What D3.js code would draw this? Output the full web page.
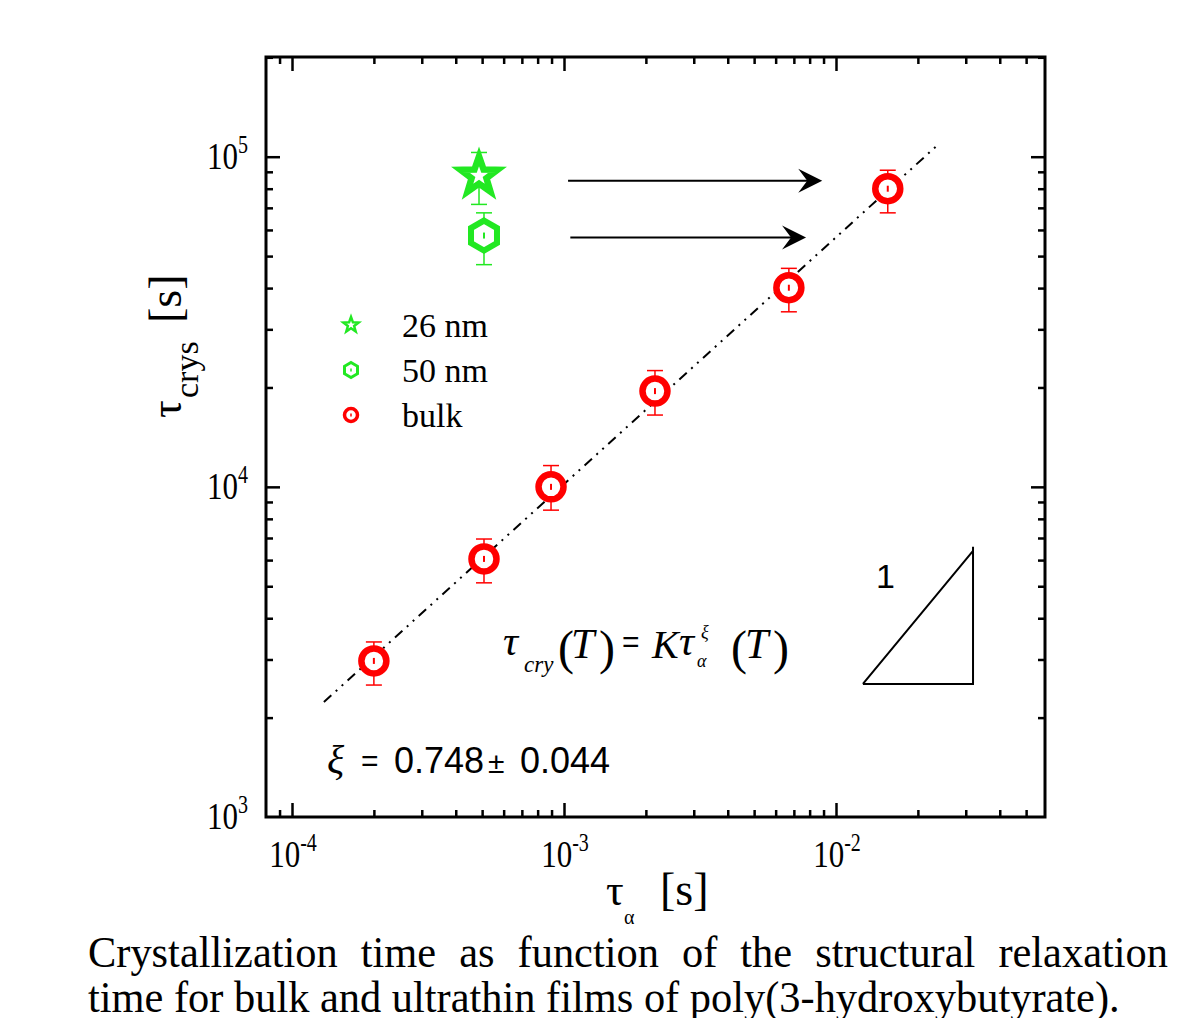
<html>
<head>
<script src="https://d3js.org/d3.v7.min.js"></script>
<style>
body { margin: 0; background: #fff; }
svg { display: block; }
</style>
</head>
<body>
<div id="chart"></div>
<script>

// bulk PHB (red circles)
var bulkX  = [2.0e-4, 5.08e-4, 8.96e-4, 2.16e-3, 6.71e-3, 1.55e-2];
var bulkY  = [2970, 6050, 10000, 19500, 40100, 80000];
var bulkHi = [3390, 6950, 11600, 22500, 45900, 91000];
var bulkLo = [2510, 5120, 8500, 16500, 33900, 67600];

// ultrathin films (green)
var filmX  = [4.87e-4, 5.08e-4];
var filmY  = [87500, 57700];
var filmHi = [103000, 67600];
var filmLo = [71700, 47100];

var legendLabels = ["26 nm", "50 nm", "bulk"];

// fitted line end points
var fitX = [1.31e-4, 2.37e-2];
var fitY = [2230, 108700];

// arrows from the films to the bulk line
var arrowFrom = [1.035e-3, 1.055e-3];
var arrowTo   = [8.9e-3, 7.76e-3];
var arrowY    = [84500, 56900];

// slope triangle corners
var triX = [1.256e-2, 3.19e-2];
var triY = [2530, 6580];

var xTickExp = [-4, -3, -2];
var yTickExp = [3, 4, 5];

var captionLines = [
  "Crystallization time as function of the structural relaxation",
  "time for bulk and ultrathin films of poly(3-hydroxybutyrate)."
];

var serif = "'Liberation Serif', 'Times New Roman', serif";
var sans = "'Liberation Sans', Arial, sans-serif";
var red = "#ff0000", green = "#22e822";

var W = 1197, H = 1018;
var pL = 266, pR = 1045, pT = 57, pB = 817;

var svg = d3.select("#chart").append("svg").attr("width", W).attr("height", H);
svg.append("rect").attr("width", W).attr("height", H).attr("fill", "#fff");

var x = d3.scaleLog().domain([Math.pow(10, -4.0956), Math.pow(10, -1.2316)]).range([pL, pR]);
var y = d3.scaleLog().domain([1000, Math.pow(10, 5.302)]).range([pB, pT]);

// minor / major tick values
function logTicks(scale) {
  var d = scale.domain(), major = [], minor = [];
  for (var e = Math.floor(Math.log10(d[0])); e <= Math.ceil(Math.log10(d[1])); e++) {
    for (var m = 1; m <= 9; m++) {
      var v = m * Math.pow(10, e);
      if (v < d[0] * 1.0001 || v > d[1] * 0.9999) continue;
      if (m == 1) major.push(v); else minor.push(v);
    }
  }
  return {major: major, minor: minor};
}
var xt = logTicks(x), yt = logTicks(y);

function drawAxis(axisFn, scale, vals, len, tr) {
  var g = svg.append("g").attr("transform", tr)
    .call(axisFn(scale).tickValues(vals).tickSize(-len).tickFormat(""));
  g.select(".domain").remove();
  g.selectAll("line").attr("stroke", "#000").attr("stroke-width", 2.5);
}
drawAxis(d3.axisBottom, x, xt.major, 14, "translate(0," + pB + ")");
drawAxis(d3.axisBottom, x, xt.minor, 7, "translate(0," + pB + ")");
drawAxis(d3.axisTop, x, xt.major, 14, "translate(0," + pT + ")");
drawAxis(d3.axisTop, x, xt.minor, 7, "translate(0," + pT + ")");
drawAxis(d3.axisLeft, y, yt.major, 14, "translate(" + pL + ",0)");
drawAxis(d3.axisLeft, y, yt.minor, 7, "translate(" + pL + ",0)");
drawAxis(d3.axisRight, y, yt.major, 14, "translate(" + pR + ",0)");
drawAxis(d3.axisRight, y, yt.minor, 7, "translate(" + pR + ",0)");

svg.append("rect").attr("x", pL).attr("y", pT)
  .attr("width", pR - pL).attr("height", pB - pT)
  .attr("fill", "none").attr("stroke", "#000").attr("stroke-width", 3);

// tick labels: 10 with a superscript, a bit tall
function powLabel(px, py, exp, anchor) {
  var t = svg.append("g").attr("transform", "translate(" + px + "," + py + ") scale(1,1.22)")
    .append("text").attr("font-family", serif).attr("font-size", 31)
    .attr("text-anchor", anchor).attr("fill", "#000");
  t.append("tspan").text("10");
  t.append("tspan").attr("font-size", 20).attr("dy", -13).text(String(exp));
}
xTickExp.forEach(function(e) { powLabel(x(Math.pow(10, e)) + 1, 867, e, "middle"); });
yTickExp.forEach(function(e) { powLabel(248, y(Math.pow(10, e)) + 12, e, "end"); });

// axis titles
var xt1 = svg.append("text").attr("font-family", serif).attr("fill", "#000");
xt1.append("tspan").attr("x", 606).attr("y", 905).attr("font-size", 44).text("τ");
xt1.append("tspan").attr("x", 624).attr("y", 924).attr("font-size", 20).text("α");
xt1.append("tspan").attr("x", 660).attr("y", 905).attr("font-size", 46).text("[s]");

var yt1 = svg.append("text").attr("font-family", serif).attr("fill", "#000")
  .attr("transform", "translate(181,418) rotate(-90)");
yt1.append("tspan").attr("x", 0).attr("y", 0).attr("font-size", 44).text("τ");
yt1.append("tspan").attr("x", 20).attr("y", 17).attr("font-size", 34).text("crys");
yt1.append("tspan").attr("x", 95).attr("y", 0).attr("font-size", 46).text("[s]");

var plot = svg.append("g");

// fit line, dash-dot-dot
plot.append("line")
  .attr("x1", x(fitX[0])).attr("y1", y(fitY[0]))
  .attr("x2", x(fitX[1])).attr("y2", y(fitY[1]))
  .attr("stroke", "#000").attr("stroke-width", 2)
  .attr("stroke-dasharray", "10,6,2,6,2,6");

// arrows
arrowFrom.forEach(function(a, i) {
  var x0 = x(a), x1 = x(arrowTo[i]), yy = y(arrowY[i]);
  plot.append("line").attr("x1", x0).attr("x2", x1 - 10).attr("y1", yy).attr("y2", yy)
    .attr("stroke", "#000").attr("stroke-width", 2);
  plot.append("path")
    .attr("d", "M" + x1 + "," + yy + " L" + (x1 - 24) + "," + (yy - 12) + " L" + (x1 - 15) + "," + yy +
      " L" + (x1 - 24) + "," + (yy + 12) + " Z")
    .attr("fill", "#000");
});

// slope triangle
plot.append("path")
  .attr("d", "M" + x(triX[0]) + "," + y(triY[0]) + " L" + x(triX[1]) + "," + y(triY[0]) +
    " L" + x(triX[1]) + "," + (y(triY[1])) + " M" + x(triX[0]) + "," + y(triY[0]) +
    " L" + x(triX[1]) + "," + (y(triY[1]) + 4))
  .attr("fill", "none").attr("stroke", "#000").attr("stroke-width", 2);

function starPts(R, r) {
  var p = [];
  for (var k = 0; k < 10; k++) {
    var a = -Math.PI / 2 + k * Math.PI / 5, rr = k % 2 ? r : R;
    p.push([rr * Math.cos(a), rr * Math.sin(a)]);
  }
  return "M" + p.join("L") + "Z";
}
function hexPts(R) {
  var p = [];
  for (var k = 0; k < 6; k++) {
    var a = -Math.PI / 2 + k * Math.PI / 3;
    p.push([R * Math.cos(a), R * Math.sin(a)]);
  }
  return "M" + p.join("L") + "Z";
}

function errBar(g, cx, hi, lo, col) {
  g.append("line").attr("x1", cx).attr("x2", cx).attr("y1", y(hi)).attr("y2", y(lo))
    .attr("stroke", col).attr("stroke-width", 1.5);
  [hi, lo].forEach(function(v) {
    g.append("line").attr("x1", cx - 8).attr("x2", cx + 8).attr("y1", y(v)).attr("y2", y(v))
      .attr("stroke", col).attr("stroke-width", 1.5);
  });
}

// bulk points
bulkX.forEach(function(v, i) {
  var cx = x(v), cy = y(bulkY[i]);
  errBar(plot, cx, bulkHi[i], bulkLo[i], red);
  plot.append("circle").attr("cx", cx).attr("cy", cy).attr("r", 12.5)
    .attr("fill", "#fff").attr("stroke", red).attr("stroke-width", 6.5);
  plot.append("line").attr("x1", cx).attr("x2", cx).attr("y1", cy - 3).attr("y2", cy + 3)
    .attr("stroke", red).attr("stroke-width", 2);
});

// film points
filmX.forEach(function(v, i) {
  var cx = x(v), cy = y(filmY[i]);
  errBar(plot, cx, filmHi[i], filmLo[i], green);
  var g = plot.append("g").attr("transform", "translate(" + cx + "," + cy + ")");
  if (i == 0) {
    g.append("path").attr("d", starPts(19.5, 7.8)).attr("fill", "#fff")
      .attr("stroke", green).attr("stroke-width", 6.5).attr("stroke-miterlimit", 10);
  } else {
    g.append("path").attr("d", hexPts(15)).attr("fill", "#fff")
      .attr("stroke", green).attr("stroke-width", 6);
    g.append("line").attr("y1", -3).attr("y2", 3).attr("stroke", green).attr("stroke-width", 2);
  }
});

// legend
var legY = [325, 370, 415];
legendLabels.forEach(function(lab, i) {
  var g = svg.append("g").attr("transform", "translate(351," + legY[i] + ")");
  if (i == 0) {
    g.append("path").attr("d", starPts(8, 3.3)).attr("fill", "#fff")
      .attr("stroke", green).attr("stroke-width", 2.5).attr("stroke-miterlimit", 10);
  } else if (i == 1) {
    g.append("path").attr("d", hexPts(7.5)).attr("fill", "#fff")
      .attr("stroke", green).attr("stroke-width", 3);
    g.append("line").attr("y1", -1.5).attr("y2", 1.5).attr("stroke", green).attr("stroke-width", 1.5);
  } else {
    g.append("circle").attr("r", 6.5).attr("fill", "#fff")
      .attr("stroke", red).attr("stroke-width", 3.5);
    g.append("line").attr("y1", -1.5).attr("y2", 1.5).attr("stroke", red).attr("stroke-width", 1.5);
  }
  svg.append("text").attr("x", 402).attr("y", legY[i] + 12)
    .attr("font-family", serif).attr("font-size", 34).attr("fill", "#000").text(lab);
});

// equation
function txt(s, px, py, size, fam, ital) {
  svg.append("text").attr("x", px).attr("y", py).attr("font-family", fam)
    .attr("font-size", size).attr("font-style", ital ? "italic" : "normal")
    .attr("fill", "#000").text(s);
}
txt("τ", 503, 655, 42, serif, true);
txt("cry", 524, 672, 23, serif, true);
txt("(", 558, 664, 48, serif, false);
txt("T", 571, 658, 42, serif, true);
txt(")", 599, 664, 48, serif, false);
txt("=", 622, 652, 30, sans, false);
txt("K", 652, 658, 40, serif, true);
txt("τ", 679, 655, 42, serif, true);
txt("ξ", 701, 638, 18, serif, true);
txt("α", 697, 667, 18, serif, true);
txt("(", 731, 664, 48, serif, false);
txt("T", 745, 658, 42, serif, true);
txt(")", 773, 664, 48, serif, false);

txt("ξ", 327, 773, 40, serif, true);
txt("=", 361, 771, 30, sans, false);
txt("0.748", 394, 773, 36, sans, false);
txt("±", 488, 773, 30, sans, false);
txt("0.044", 520, 773, 36, sans, false);

txt("1", 876, 588, 34, sans, false);

// caption, justified, narrow serif
var capSize = 44;
function textW(s) {
  var t = svg.append("text").attr("font-family", serif).attr("font-size", capSize).text(s);
  var w = t.node().getComputedTextLength();
  t.remove();
  return w;
}
var capLeft = 88;
var sx = (1120 - capLeft) / textW(captionLines[1]);
svg.append("g").attr("transform", "translate(" + capLeft + ",1012) scale(" + sx + ",1)")
  .append("text").attr("font-family", serif).attr("font-size", capSize).attr("fill", "#000")
  .text(captionLines[1]);

var words = captionLines[0].split(" ");
var ww = words.map(function(w) { return textW(w) * sx; });
var gap = (1168 - capLeft - d3.sum(ww)) / (words.length - 1);
var cx0 = capLeft;
words.forEach(function(w, i) {
  svg.append("g").attr("transform", "translate(" + cx0 + ",967) scale(" + sx + ",1)")
    .append("text").attr("font-family", serif).attr("font-size", capSize).attr("fill", "#000")
    .text(w);
  cx0 += ww[i] + gap;
});

</script>
</body>
</html>
